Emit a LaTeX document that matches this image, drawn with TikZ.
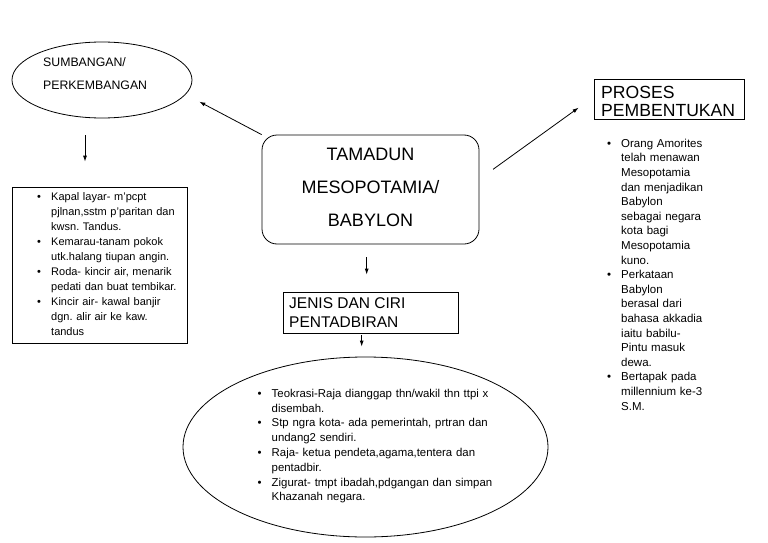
\documentclass[tikz,border=0pt]{standalone}
\usepackage{fontspec}
\setmainfont{Liberation Sans}
\usetikzlibrary{arrows.meta,shapes.geometric}
\newlength\bind
\setlength\bind{14pt}
\newcommand\bfirst{\noindent\hangindent=\bind\hangafter=1\makebox[\bind][l]{\textbullet}}
\newcommand\bitem{\par\bfirst}
\frenchspacing

\begin{document}
\begin{tikzpicture}[x=1pt,y=-1pt,
  arr/.style={-{Latex[length=6pt,width=4pt]},line width=0.8pt},
  box/.style={draw,line width=0.8pt,inner sep=0pt},
  lbl/.style={anchor=base west,align=left,inner sep=0pt},
  lst/.style={anchor=base west,inner sep=0pt}]
\useasboundingbox (0,0) rectangle (768,543);
\node[box,ellipse,minimum width=180pt,minimum height=76pt] (sumb) at (102,80) {};
\node[lbl,font=\fontsize{12.3}{23}\selectfont] (sumbtxt) at (43,89.4) {SUMBANGAN/\\PERKEMBANGAN};
\node[box,rounded corners=15pt,minimum width=217pt,minimum height=109pt,align=center,text depth=5pt,
  font=\fontsize{18}{33}\selectfont] (tamadun) at (370.5,189.5) {TAMADUN\\MESOPOTAMIA/\\BABYLON};
\node[box,minimum width=175pt,minimum height=156pt] (kapal) at (99.5,265) {};
\node[lst,text width=150pt,font=\fontsize{11}{15}\selectfont] (kapaltxt) at (37,200.7) {%
\bfirst Kapal layar- m'pcpt\newline pjlnan,sstm p'paritan dan\newline kwsn. Tandus.
\bitem Kemarau-tanam pokok\newline utk.halang tiupan angin.
\bitem Roda- kincir air, menarik\newline pedati dan buat tembikar.
\bitem Kincir air- kawal banjir\newline dgn. alir air ke kaw.\newline tandus\par};
\node[box,minimum width=150pt,minimum height=40pt] (proses) at (669,99) {};
\node[lbl,font=\fontsize{17.6}{18}\selectfont] (prosestxt) at (601,116) {PROSES\\PEMBENTUKAN};
\node[lst,text width=130pt,font=\fontsize{11.5}{14.6}\selectfont] (prosestxt2) at (607,147.2) {%
\bfirst Orang Amorites\newline telah menawan\newline Mesopotamia\newline dan menjadikan\newline Babylon\newline sebagai negara\newline kota bagi\newline Mesopotamia\newline kuno.
\bitem Perkataan\newline Babylon\newline berasal dari\newline bahasa akkadia\newline iaitu babilu-\newline Pintu masuk\newline dewa.
\bitem Bertapak pada\newline millennium ke-3\newline S.M.\par};
\node[box,minimum width=175pt,minimum height=41pt] (jenis) at (370.5,312.5) {};
\node[lbl,font=\fontsize{15.5}{19}\selectfont] (jenistxt) at (289,327.5) {JENIS DAN CIRI\\PENTADBIRAN};
\node[box,ellipse,minimum width=365pt,minimum height=180pt] (ciri) at (365.5,447) {};
\node[lst,text width=260pt,font=\fontsize{11.4}{14.8}\selectfont] (ciritxt) at (257.5,397.2) {%
\bfirst Teokrasi-Raja dianggap thn/wakil thn ttpi x\newline disembah.
\bitem Stp ngra kota- ada pemerintah, prtran dan\newline undang2 sendiri.
\bitem Raja- ketua pendeta,agama,tentera dan\newline pentadbir.
\bitem Zigurat- tmpt ibadah,pdgangan dan simpan\newline Khazanah negara.\par};
\coordinate (sumbtip) at (199.3,101.7);
\draw[arr] (tamadun.north west) -- (sumbtip);
\draw[arr] ([shift={(13.7,-20.2)}]tamadun.east) -- ([shift={(-15,8.7)}]proses.west);
\draw[arr] ([shift={(-17,17)}]sumb.south) -- ([shift={(-14.5,-25)}]kapal.north);
\draw[arr] ([shift={(-3.8,12.7)}]tamadun.south) -- ([shift={(-3.8,-17)}]jenis.north);
\draw[arr] ([shift={(-8.8,2)}]jenis.south) -- ([shift={(-3.8,-10)}]ciri.north);
\end{tikzpicture}
\end{document}
